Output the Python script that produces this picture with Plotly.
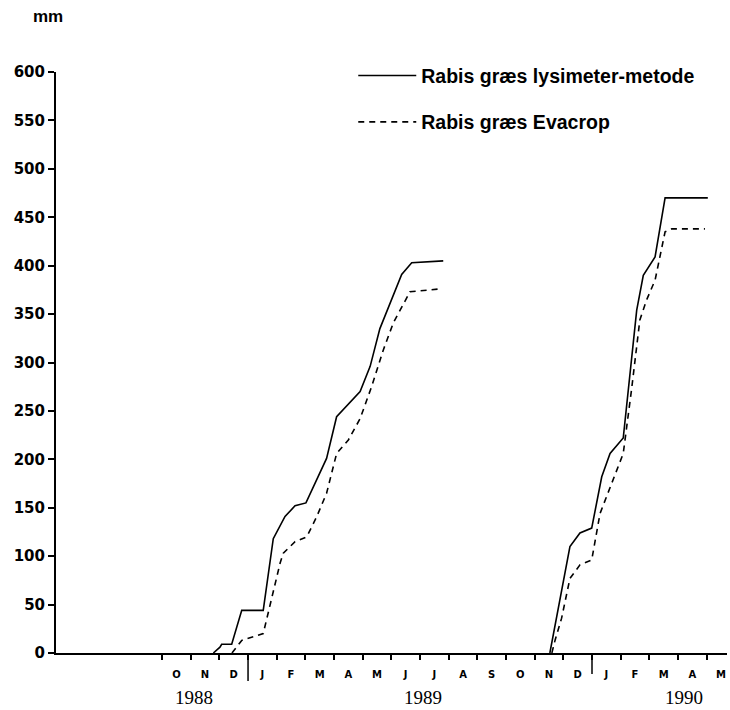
import plotly.graph_objects as go

# x = months since 1 Jan 1988 (9.0 = 1 Oct 1988, 12.0 = 1 Jan 1989, 24.0 = 1 Jan 1990)
lysimeter_x = [10.79, 11.02, 11.08, 11.43, 11.78, 12.53, 12.88, 13.29, 13.64, 14.02,
               14.74, 15.09, 15.91, 16.26, 16.60, 16.95, 17.36, 17.71, 18.81, None,
               22.53, 23.23, 23.58, 23.99, 24.34, 24.63, 25.09, 25.56, 25.79,
               26.20, 26.55, 28.04]
lysimeter_y = [0, 6, 9, 9, 44, 44, 118, 141, 152, 155,
               201, 244, 270, 296, 335, 360, 391, 403, 405, None,
               0, 110, 124, 129, 182, 206, 222, 354, 390,
               409, 470, 470]

evacrop_x = [11.44, 11.78, 12.53, 13.12, 13.23, 13.64, 14.05, 14.40, 14.74, 15.09,
             15.50, 15.91, 16.31, 16.72, 17.07, 17.42, 17.65, 18.70, None,
             22.60, 22.71, 22.94, 23.06, 23.23, 23.58, 23.99, 24.28, 24.69,
             25.09, 25.38, 25.67, 25.91, 26.20, 26.55, 26.78, 27.94]
evacrop_y = [0, 13, 20, 93, 103, 115, 120, 141, 165, 206,
             220, 242, 275, 313, 341, 360, 373, 376, None,
             0, 13, 36, 52, 77, 91, 96, 144, 175,
             206, 272, 344, 365, 385, 435, 438, 438]

series_names = ["Rabis græs lysimeter-metode", "Rabis græs Evacrop"]

month_letters = ["O", "N", "D",
                 "J", "F", "M", "A", "M", "J", "J", "A", "S", "O", "N", "D",
                 "J", "F", "M", "A", "M"]
first_month = 9  # October 1988
month_starts = [first_month + i for i in range(len(month_letters))]
month_mids = [m + 0.5 for m in month_starts]

year_labels = ["1988", "1989", "1990"]
year_label_x = [10.1, 18.1, 27.2]
year_starts = [12, 24]

y_ticks = list(range(0, 601, 50))
x_range = [5.30, 28.71]

fig = go.Figure()
fig.add_trace(go.Scatter(x=lysimeter_x, y=lysimeter_y, mode="lines", name=series_names[0],
                         legendgroup="a", line=dict(color="black", width=1.6),
                         connectgaps=False))
fig.add_trace(go.Scatter(x=evacrop_x, y=evacrop_y, mode="lines", name=series_names[1],
                         legendgroup="b", line=dict(color="black", width=1.6, dash="6px,5px"),
                         connectgaps=False))
# invisible trace to activate the month-label axis
fig.add_trace(go.Scatter(x=[month_mids[0]], y=[0], xaxis="x2", mode="markers",
                         marker=dict(opacity=0), showlegend=False, hoverinfo="skip"))

fig.update_layout(
    width=730, height=710,
    margin=dict(l=56, r=3, t=72, b=57),
    paper_bgcolor="white", plot_bgcolor="white",
    font=dict(family="Liberation Sans, Arial", color="black"),
    showlegend=True,
    legend=dict(x=0.443, y=1.027, xanchor="left", yanchor="top", itemwidth=58,
                font=dict(family="Liberation Sans, Arial", size=19.5, weight="bold"),
                tracegroupgap=18, bgcolor="rgba(0,0,0,0)"),
    xaxis=dict(range=x_range, tickmode="array", tickvals=month_starts,
               ticktext=["" for _ in month_starts], ticks="outside", ticklen=5,
               tickwidth=1.5, tickcolor="black", showline=True, linewidth=2,
               linecolor="black", showgrid=False, zeroline=False),
    xaxis2=dict(range=x_range, overlaying="x", anchor="y", side="bottom",
                tickmode="array", tickvals=month_mids, ticktext=month_letters,
                ticks="", showline=False, showgrid=False, zeroline=False,
                ticklabelstandoff=14,
                tickfont=dict(family="DejaVu Sans", size=10, weight="bold")),
    yaxis=dict(range=[0, 600], tickmode="array", tickvals=y_ticks, ticks="outside",
               ticklen=6, tickwidth=1.5, tickcolor="black", showline=True, linewidth=2,
               linecolor="black", showgrid=False, zeroline=False,
               tickfont=dict(family="DejaVu Sans", size=15, weight="bold")),
)

for x in year_starts:
    fig.add_shape(type="line", xref="x", yref="paper", x0=x, x1=x, y0=0,
                  y1=-0.048 if x == year_starts[0] else -0.036,
                  line=dict(color="black", width=1.5))

for lbl, x in zip(year_labels, year_label_x):
    fig.add_annotation(x=x, y=-0.076, xref="x", yref="paper", text=lbl, showarrow=False,
                       font=dict(family="Liberation Serif, Times New Roman", size=19),
                       yanchor="middle", xanchor="center")

fig.add_annotation(x=-0.012, y=1.095, xref="paper", yref="paper", text="mm", showarrow=False,
                   font=dict(family="Liberation Sans, Arial", size=17, weight="bold"),
                   yanchor="middle", xanchor="center")

fig.write_html("out.html")
